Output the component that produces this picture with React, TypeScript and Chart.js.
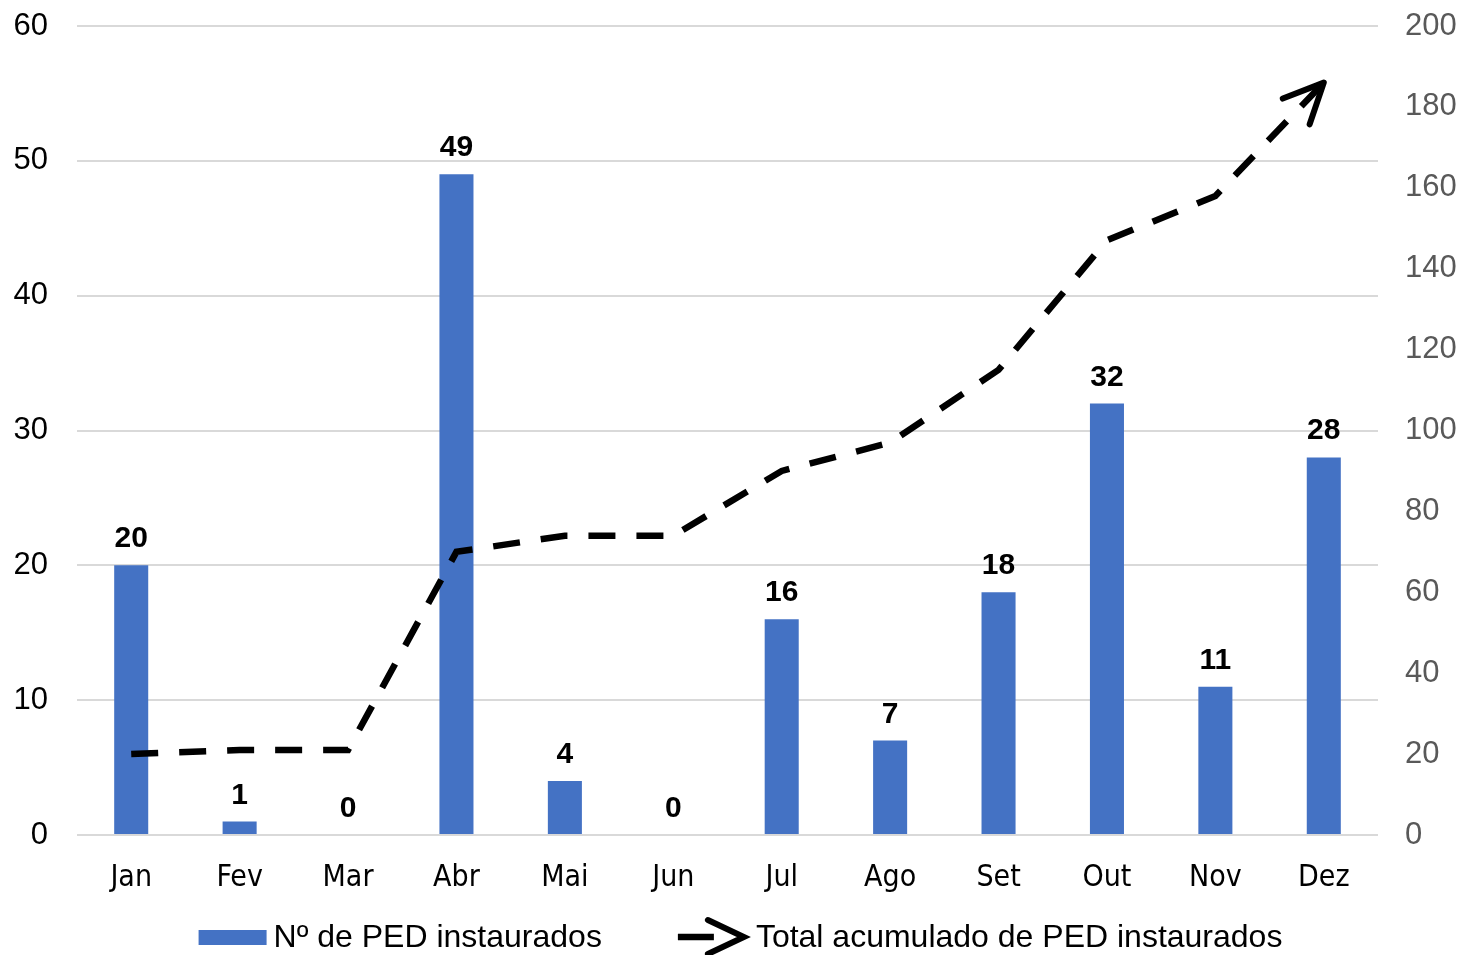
import React, { useEffect, useRef } from "react";
import { Chart, registerables } from "chart.js";

Chart.register(...registerables);

const months = ["Jan", "Fev", "Mar", "Abr", "Mai", "Jun", "Jul", "Ago", "Set", "Out", "Nov", "Dez"];
const pedMonthly = [20, 1, 0, 49, 4, 0, 16, 7, 18, 32, 11, 28];
const pedCumulative = [20, 21, 21, 70, 74, 74, 90, 97, 115, 147, 158, 186];
const barLabel = "Nº de PED instaurados";
const lineLabel = "Total acumulado de PED instaurados";

const W = 1463;
const H = 955;
const NUM_FONT = "'Liberation Sans', Arial, sans-serif";
const CAT_FONT = "'Liberation Sans Narrow', 'Arial Narrow', 'DejaVu Sans Condensed', sans-serif";
const BAR_COLOR = "#4472C4";

const dataLabelPlugin = {
  id: "dataLabels",
  afterDatasetsDraw(chart: any) {
    const meta = chart.getDatasetMeta(0);
    const ctx = chart.ctx;
    ctx.save();
    ctx.font = `bold 30px ${NUM_FONT}`;
    ctx.fillStyle = "#000";
    ctx.textAlign = "center";
    ctx.textBaseline = "alphabetic";
    meta.data.forEach((bar: any, i: number) => {
      ctx.fillText(String(chart.data.datasets[0].data[i]), bar.x, bar.y - 18);
    });
    ctx.restore();
  },
};

const arrowPlugin = {
  id: "arrowHead",
  afterDatasetsDraw(chart: any) {
    const meta = chart.getDatasetMeta(1);
    const pts = meta.data;
    if (pts.length < 2) return;
    const a = pts[pts.length - 2];
    const b = pts[pts.length - 1];
    const ang = Math.atan2(b.y - a.y, b.x - a.x);
    const len = 44;
    const spread = (25 * Math.PI) / 180;
    const ctx = chart.ctx;
    ctx.save();
    ctx.strokeStyle = "#000";
    ctx.lineWidth = 6;
    ctx.lineCap = "round";
    ctx.lineJoin = "round";
    ctx.beginPath();
    ctx.moveTo(b.x - len * Math.cos(ang - spread), b.y - len * Math.sin(ang - spread));
    ctx.lineTo(b.x, b.y);
    ctx.lineTo(b.x - len * Math.cos(ang + spread), b.y - len * Math.sin(ang + spread));
    ctx.stroke();
    ctx.restore();
  },
};

const legendPlugin = {
  id: "customLegend",
  afterDraw(chart: any) {
    const ctx = chart.ctx;
    ctx.save();
    ctx.font = `32px ${NUM_FONT}`;
    const w1 = ctx.measureText(barLabel).width;
    const w2 = ctx.measureText(lineLabel).width;
    const sym = 68;
    const gap1 = 7;
    const gap2 = 10;
    const between = 76;
    const total = sym + gap1 + w1 + between + sym + gap2 + w2;
    let x = W / 2 + 9 - total / 2;
    const y = 937;
    ctx.fillStyle = BAR_COLOR;
    ctx.fillRect(x, y - 7, sym, 15);
    ctx.fillStyle = "#000";
    ctx.textAlign = "left";
    ctx.textBaseline = "middle";
    ctx.fillText(barLabel, x + sym + gap1, y + 1);
    x += sym + gap1 + w1 + between;
    ctx.strokeStyle = "#000";
    ctx.lineWidth = 6.5;
    ctx.lineCap = "butt";
    ctx.beginPath();
    ctx.moveTo(x, y);
    ctx.lineTo(x + 36, y);
    ctx.stroke();
    ctx.lineWidth = 6;
    ctx.lineCap = "round";
    ctx.lineJoin = "miter";
    ctx.beginPath();
    ctx.moveTo(x + 30, y - 17);
    ctx.lineTo(x + 66, y);
    ctx.lineTo(x + 30, y + 17);
    ctx.stroke();
    ctx.fillText(lineLabel, x + sym + gap2, y + 1);
    ctx.restore();
  },
};

export default function App() {
  const ref = useRef<HTMLCanvasElement | null>(null);

  useEffect(() => {
    if (!ref.current) return;
    const chart = new Chart(ref.current, {
      type: "bar",
      data: {
        labels: months,
        datasets: [
          {
            type: "bar",
            label: barLabel,
            data: pedMonthly,
            backgroundColor: BAR_COLOR,
            yAxisID: "y",
            barPercentage: 0.314,
            categoryPercentage: 1,
            order: 1,
          },
          {
            type: "line",
            label: lineLabel,
            data: pedCumulative,
            borderColor: "#000",
            borderWidth: 6.5,
            borderDash: [27, 21],
            borderCapStyle: "butt",
            borderJoinStyle: "miter",
            pointRadius: 0,
            tension: 0,
            fill: false,
            yAxisID: "y1",
            order: 0,
          },
        ],
      } as any,
      options: {
        animation: false,
        responsive: false,
        maintainAspectRatio: false,
        layout: { padding: { top: 26, left: 0, right: 0, bottom: 0 } },
        plugins: {
          legend: { display: false },
          tooltip: { enabled: false },
        },
        scales: {
          x: {
            grid: { display: false, drawTicks: false },
            border: { display: false },
            ticks: {
              color: "#000",
              font: { family: CAT_FONT, size: 30 },
              padding: 25,
              maxRotation: 0,
            },
            afterFit(scale: any) {
              scale.height = 120;
              scale.paddingLeft = 0;
              scale.paddingRight = 0;
            },
          },
          y: {
            position: "left",
            min: 0,
            max: 60,
            ticks: {
              stepSize: 10,
              color: "#000",
              font: { family: NUM_FONT, size: 31 },
              padding: 29,
            },
            grid: { color: "#d9d9d9", lineWidth: 2, drawTicks: false },
            border: { display: false },
            afterFit(scale: any) {
              scale.width = 77;
              scale.paddingTop = 0;
              scale.paddingBottom = 0;
            },
          },
          y1: {
            position: "right",
            min: 0,
            max: 200,
            ticks: {
              stepSize: 20,
              color: "#595959",
              font: { family: NUM_FONT, size: 31 },
              padding: 27,
            },
            grid: { display: false, drawTicks: false },
            border: { display: false },
            afterFit(scale: any) {
              scale.width = 85;
              scale.paddingTop = 0;
              scale.paddingBottom = 0;
            },
          },
        },
      } as any,
      plugins: [dataLabelPlugin, arrowPlugin, legendPlugin],
    });
    return () => chart.destroy();
  }, []);

  return (
    <div style={{ position: "absolute", left: 0, top: 0, width: W, height: H, background: "#fff" }}>
      <canvas ref={ref} width={W} height={H} style={{ width: W, height: H, display: "block" }} />
    </div>
  );
}
